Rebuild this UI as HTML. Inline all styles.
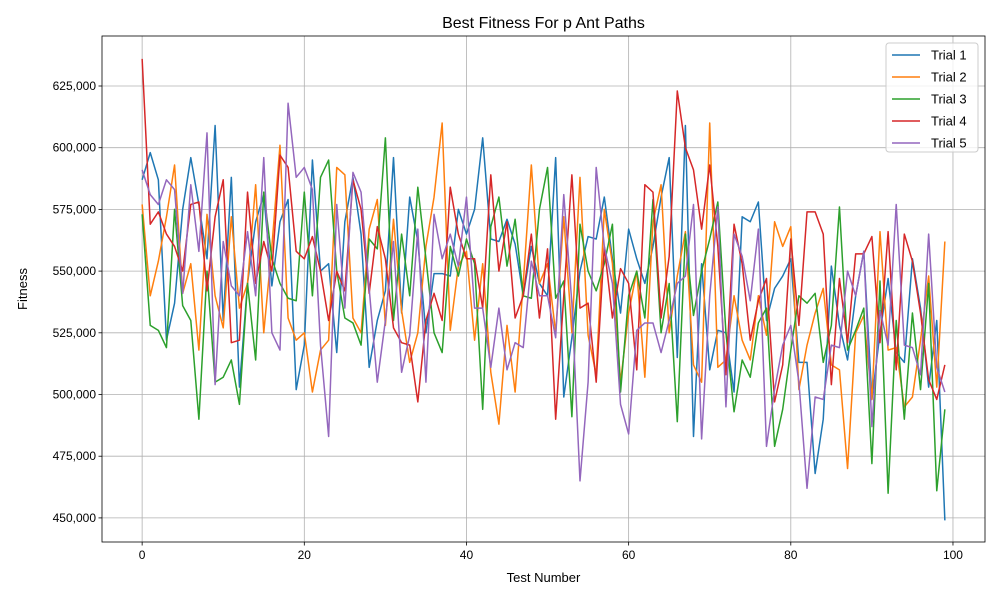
<!DOCTYPE html>
<html><head><meta charset="utf-8"><style>body{margin:0;background:#fff}svg{display:block;font-family:"Liberation Sans","DejaVu Sans",sans-serif}</style></head>
<body>
<svg id="chart" width="1000" height="600"></svg>
<script>
const xTicks=[0,20,40,60,80,100];
const yTicks=[450000,475000,500000,525000,550000,575000,600000,625000];
const yTickLabels=["450,000","475,000","500,000","525,000","550,000","575,000","600,000","625,000"];
const seriesNames=["Trial 1","Trial 2","Trial 3","Trial 4","Trial 5"];
const trial1=[587,598,587,522,537,575,596,577,555,609,530,588,503,545,570,581,544,570,579,502,520,595,550,553,517,570,588,565,511,530,542,596,533,580,562,525,549,549,548,575,565,575,604,563,562,571,561,540,560,545,540,596,499,523,550,564,563,580,555,533,567,555,545,560,580,596,515,609,483,553,510,526,525,501,572,570,578,530,543,548,555,513,513,468,490,552,528,514,540,558,498,525,547,517,513,555,535,503,530,449];
const trial2=[577,540,554,572,593,541,553,518,573,540,527,572,535,545,585,525,560,601,531,522,525,501,518,522,592,589,531,525,567,579,528,571,534,513,525,560,580,610,526,552,558,522,553,509,488,528,501,545,593,545,553,525,572,525,588,524,508,575,553,505,533,550,507,570,585,525,548,566,512,505,610,511,514,540,522,514,540,524,570,560,568,502,520,533,543,512,510,470,525,532,498,566,518,519,495,499,522,548,503,562];
const trial3=[573,528,526,519,575,536,530,490,550,505,507,514,496,545,514,582,555,545,539,538,582,540,588,595,550,531,529,520,563,559,604,530,565,540,584,555,525,517,560,548,563,553,494,568,580,552,571,540,539,575,592,539,546,491,569,550,542,553,569,501,540,550,531,579,525,545,489,565,532,550,563,578,525,493,514,507,529,535,479,494,518,540,537,541,513,528,576,518,526,535,472,546,460,530,490,533,502,545,461,494];
const trial4=[636,569,574,565,560,550,577,578,542,572,587,521,522,582,545,562,550,597,592,558,555,564,550,530,550,542,587,575,541,568,555,527,521,520,497,530,541,530,584,565,555,555,535,589,550,570,531,540,565,531,559,490,540,589,535,537,505,560,531,551,545,510,585,582,531,556,623,600,591,567,593,560,508,569,553,522,538,547,497,512,563,528,574,574,565,504,547,521,557,557,564,521,566,510,565,554,533,506,498,512];
const trial5=[591,581,577,587,583,541,585,558,606,504,562,544,540,566,540,596,525,518,618,588,592,583,520,483,577,535,590,582,543,505,530,562,509,524,567,505,573,555,565,552,580,535,535,511,535,510,521,519,554,540,540,523,581,537,465,505,592,560,545,496,484,526,529,529,517,530,545,548,577,482,540,576,495,565,556,538,567,479,502,520,528,505,462,499,498,520,519,550,540,558,487,534,520,577,520,519,508,565,511,501];
const colors=["#1f77b4","#ff7f0e","#2ca02c","#d62728","#9467bd"];
const allSeries=[trial1,trial2,trial3,trial4,trial5];
const L=102,R=985,T=36,B=542;
const xDom=[-4.95,103.95], yDom=[440240,645260];
const xs=v=>L+(v-xDom[0])/(xDom[1]-xDom[0])*(R-L);
const ys=v=>B-(v-yDom[0])/(yDom[1]-yDom[0])*(B-T);
const svg=document.getElementById('chart');
const NS="http://www.w3.org/2000/svg";
function mk(tag,attrs,parent){const e=document.createElementNS(NS,tag);for(const k in attrs)e.setAttribute(k,attrs[k]);(parent||svg).appendChild(e);return e;}
const grid=mk('g',{});


xTicks.forEach(t=>{const x=xs(t);
 const l=mk('line',{x1:x,x2:x,y1:T,y2:B,stroke:'#b0b0b0','stroke-width':0.8},grid);
 
 const tk=mk('line',{x1:x,x2:x,y1:B,y2:B+3.5,stroke:'#000','stroke-width':0.8});
 
 const tx=mk('text',{x:x,y:B+17,'font-size':12,'text-anchor':'middle',fill:'#000'});tx.textContent=t;
 });
yTicks.forEach((t,i)=>{const y=ys(t);
 const l=mk('line',{x1:L,x2:R,y1:y,y2:y,stroke:'#b0b0b0','stroke-width':0.8},grid);
 
 const tk=mk('line',{x1:L-3.5,x2:L,y1:y,y2:y,stroke:'#000','stroke-width':0.8});
 
 const tx=mk('text',{x:L-6,y:y+4,'font-size':12,'text-anchor':'end',fill:'#000'});tx.textContent=yTickLabels[i];
 });
allSeries.forEach((s,i)=>{const d=s.map((v,j)=>(j?'L':'M')+xs(j).toFixed(2)+','+ys(v*1000).toFixed(2)).join('');
 const p=mk('path',{d:d,fill:'none',stroke:colors[i],'stroke-width':1.5,'stroke-linejoin':'round'});
 });
const frame=mk('rect',{x:L,y:T,width:R-L,height:B-T,fill:'none',stroke:'#000','stroke-width':0.8});

const title=mk('text',{x:(L+R)/2,y:28,'font-size':16,'text-anchor':'middle'});title.textContent='Best Fitness For p Ant Paths';

const xl=mk('text',{x:(L+R)/2,y:582,'font-size':13,'text-anchor':'middle'});xl.textContent='Test Number';

const yl=mk('text',{x:0,y:0,'font-size':13,'text-anchor':'middle',transform:'translate(27,289) rotate(-90)'});yl.textContent='Fitness';

const lg=mk('g',{});

mk('rect',{x:886,y:43,width:92,height:109,rx:3,fill:'#fff','fill-opacity':0.8,stroke:'#ccc'},lg);
seriesNames.forEach((n,i)=>{const y=55+i*22;
 const ln=mk('line',{x1:892,x2:920,y1:y,y2:y,stroke:colors[i],'stroke-width':1.5},lg);
 
 const t=mk('text',{x:931,y:y+4.5,'font-size':13},lg);t.textContent=n;
 });
</script>
</body></html>
